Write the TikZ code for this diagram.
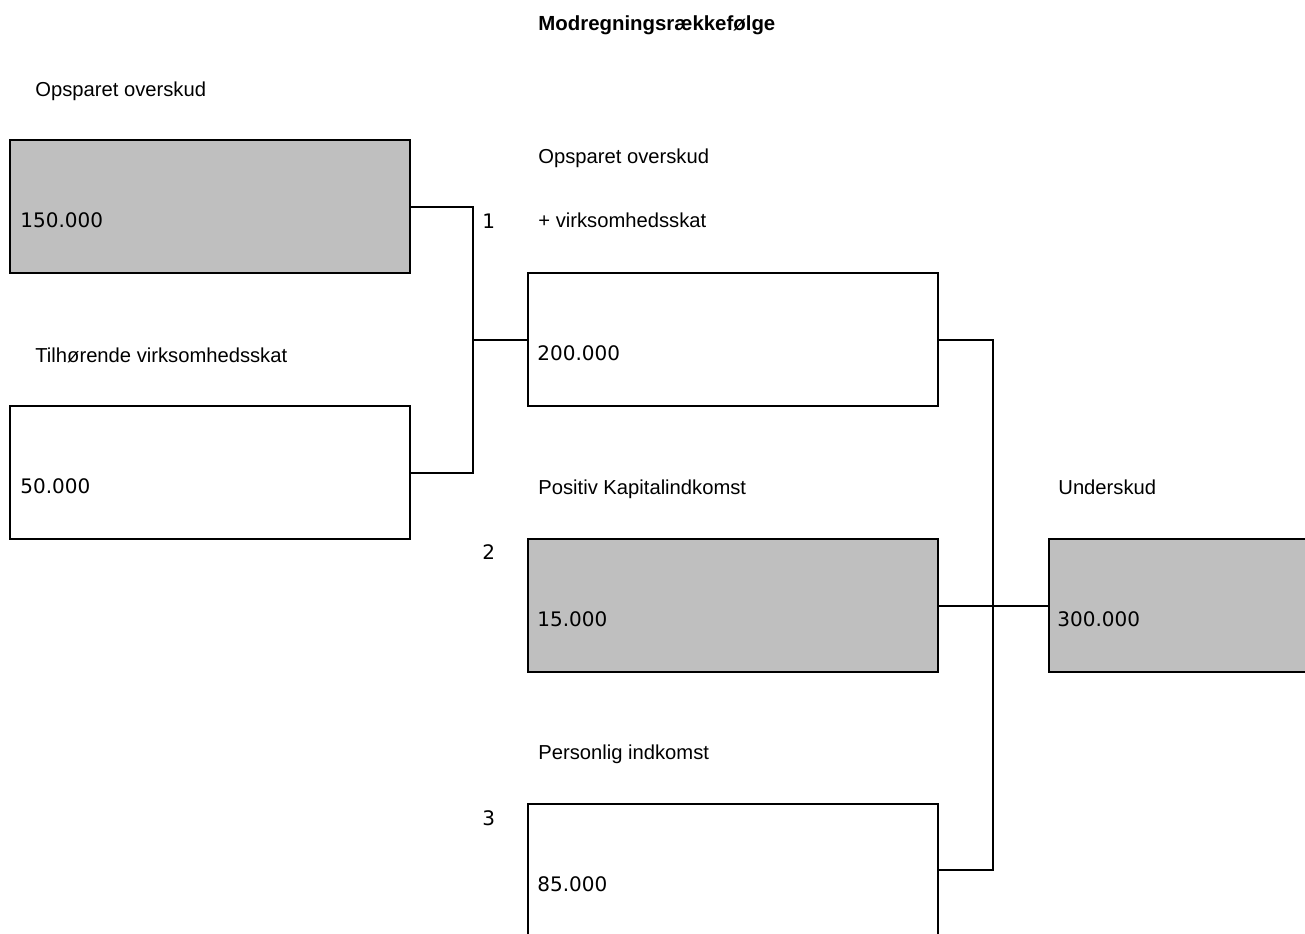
\documentclass[tikz,border=0pt]{standalone}
\usepackage{fontspec}
\usepackage{tikz}
\setmainfont{Liberation Sans}
\newfontfamily\valfont{DejaVu Sans}
\definecolor{boxgray}{HTML}{BFBFBF}
\tikzset{
  amount/.style={draw, line width=1pt, minimum width=200pt, minimum height=66.5pt, inner sep=0pt},
  wide/.style={minimum width=205pt},
  shaded/.style={fill=boxgray},
  val/.style={anchor=base west, inner sep=0pt, font=\valfont\fontsize{10}{12}\selectfont},
  lbl/.style={anchor=base west, inner sep=0pt, font=\fontsize{10.1}{12}\selectfont},
}

\begin{document}
\begin{tikzpicture}[x=0.5pt, y=-0.5pt, line join=miter]
  \useasboundingbox (0,0) rectangle (1305,933);
  \clip (0,0) rectangle (1305,933);
  % boxes
  \node[amount, shaded] (b150) at (210,206.5) {};
  \node[amount]         (b50)  at (210,472.5) {};
  \node[amount, wide]   (b200) at (733,339.5) {};
  \node[amount, wide, shaded] (b15) at (733,605.5) {};
  \node[amount, wide]   (b85)  at (733,870) {};
  \node[amount, wide, shaded] (b300) at (1254,605.5) {};
  % amounts
  \node[val] (v150) at ([xshift=5.5pt, yshift=-10.5pt]b150.west) {150.000};
  \node[val] (v50)  at ([xshift=5.5pt, yshift=-10.5pt]b50.west)  {50.000};
  \node[val] (v200) at ([xshift=5pt, yshift=-10.5pt]b200.west)   {200.000};
  \node[val] (v15)  at ([xshift=5pt, yshift=-10.5pt]b15.west)    {15.000};
  \node[val] (v85)  at ([xshift=5pt, yshift=-10.5pt]b85.west)    {85.000};
  \node[val] (v300) at ([xshift=4.5pt, yshift=-10.5pt]b300.west) {300.000};
  % headings
  \node[lbl, font=\bfseries\fontsize{10.2}{12}\selectfont] (title) at (538,30) {Modregningsrækkefølge};
  \node[lbl] (l150) at (35,96)   {Opsparet overskud};
  \node[lbl] (l50)  at (35,362)  {Tilhørende virksomhedsskat};
  \node[lbl] (l200a) at (538,163) {Opsparet overskud};
  \node[lbl] (l200b) at (538,227) {+ virksomhedsskat};
  \node[lbl] (l15)  at (538,494) {Positiv Kapitalindkomst};
  \node[lbl] (l85)  at (538,759) {Personlig indkomst};
  \node[lbl] (l300) at (1058,494) {Underskud};
  % order of offsetting
  \foreach \n/\y in {1/228, 2/559, 3/825}
    \node[val] (n\n) at (482,\y) {\n};
  % connectors
  \coordinate (jl) at (473,339.5);
  \coordinate (jr) at (993,605.5);
  \draw[line width=1pt] (b150.east) -| (jl |- b50.east) -- (b50.east);
  \draw[line width=1pt] (jl) -- (b200.west);
  \draw[line width=1pt] (b200.east) -| (jr |- b85.east) -- (b85.east);
  \draw[line width=1pt] (b15.east) -- (b300.west);
\end{tikzpicture}
\end{document}
